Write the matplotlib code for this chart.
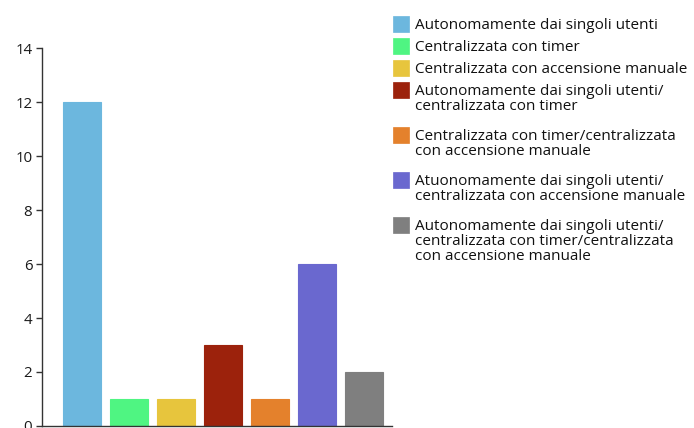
import matplotlib.pyplot as plt
from matplotlib.patches import Rectangle

plt.rcParams['font.family'] = ['Open Sans', 'DejaVu Sans']

labels = [
    "Autonomamente dai singoli utenti",
    "Centralizzata con timer",
    "Centralizzata con accensione manuale",
    "Autonomamente dai singoli utenti/\ncentralizzata con timer",
    "Centralizzata con timer/centralizzata\ncon accensione manuale",
    "Atuonomamente dai singoli utenti/\ncentralizzata con accensione manuale",
    "Autonomamente dai singoli utenti/\ncentralizzata con timer/centralizzata\ncon accensione manuale",
]
values = [12, 1, 1, 3, 1, 6, 2]
colors = ["#6cb7de", "#4ff582", "#e7c53d", "#9c220c", "#e4812c", "#6a68cf", "#7f7f7f"]
yticks = [0, 2, 4, 6, 8, 10, 12, 14]

W, H = 694, 428
fig = plt.figure(figsize=(W / 100, H / 100), dpi=100)
fig.patch.set_facecolor('white')
ax = fig.add_axes([0.0605, 0.0047, 0.5045, 0.883])

x = list(range(len(values)))
ax.bar(x, values, width=0.81, color=colors, edgecolor=colors, linewidth=0.8)

ax.set_xlim(-0.85, 6.6)
ax.set_ylim(0, 14)
ax.set_yticks(yticks)
ax.set_xticks([])
ax.tick_params(axis='y', direction='out', length=4, width=1, colors='#333333',
               labelsize=10.8, labelcolor='#1a1a1a', pad=3)
for s in ['top', 'right']:
    ax.spines[s].set_visible(False)
for s in ['left', 'bottom']:
    ax.spines[s].set_color('#333333')
    ax.spines[s].set_linewidth(1)

# legend drawn by hand so the swatch sits on the first line of each label
top = 16
for lab, c in zip(labels, colors):
    fig.patches.append(Rectangle((393 / W, 1 - (top + 16) / H), 16 / W, 16 / H,
                                 transform=fig.transFigure, facecolor=c,
                                 edgecolor=c, linewidth=0.5))
    for i, line in enumerate(lab.split('\n')):
        fig.text(415 / W, 1 - (top + 13 + 15 * i) / H, line, fontsize=11.0,
                 color='#111111', va='baseline', ha='left')
    top += 22 + 23 * lab.count('\n')

plt.savefig('out.png', dpi=100)
